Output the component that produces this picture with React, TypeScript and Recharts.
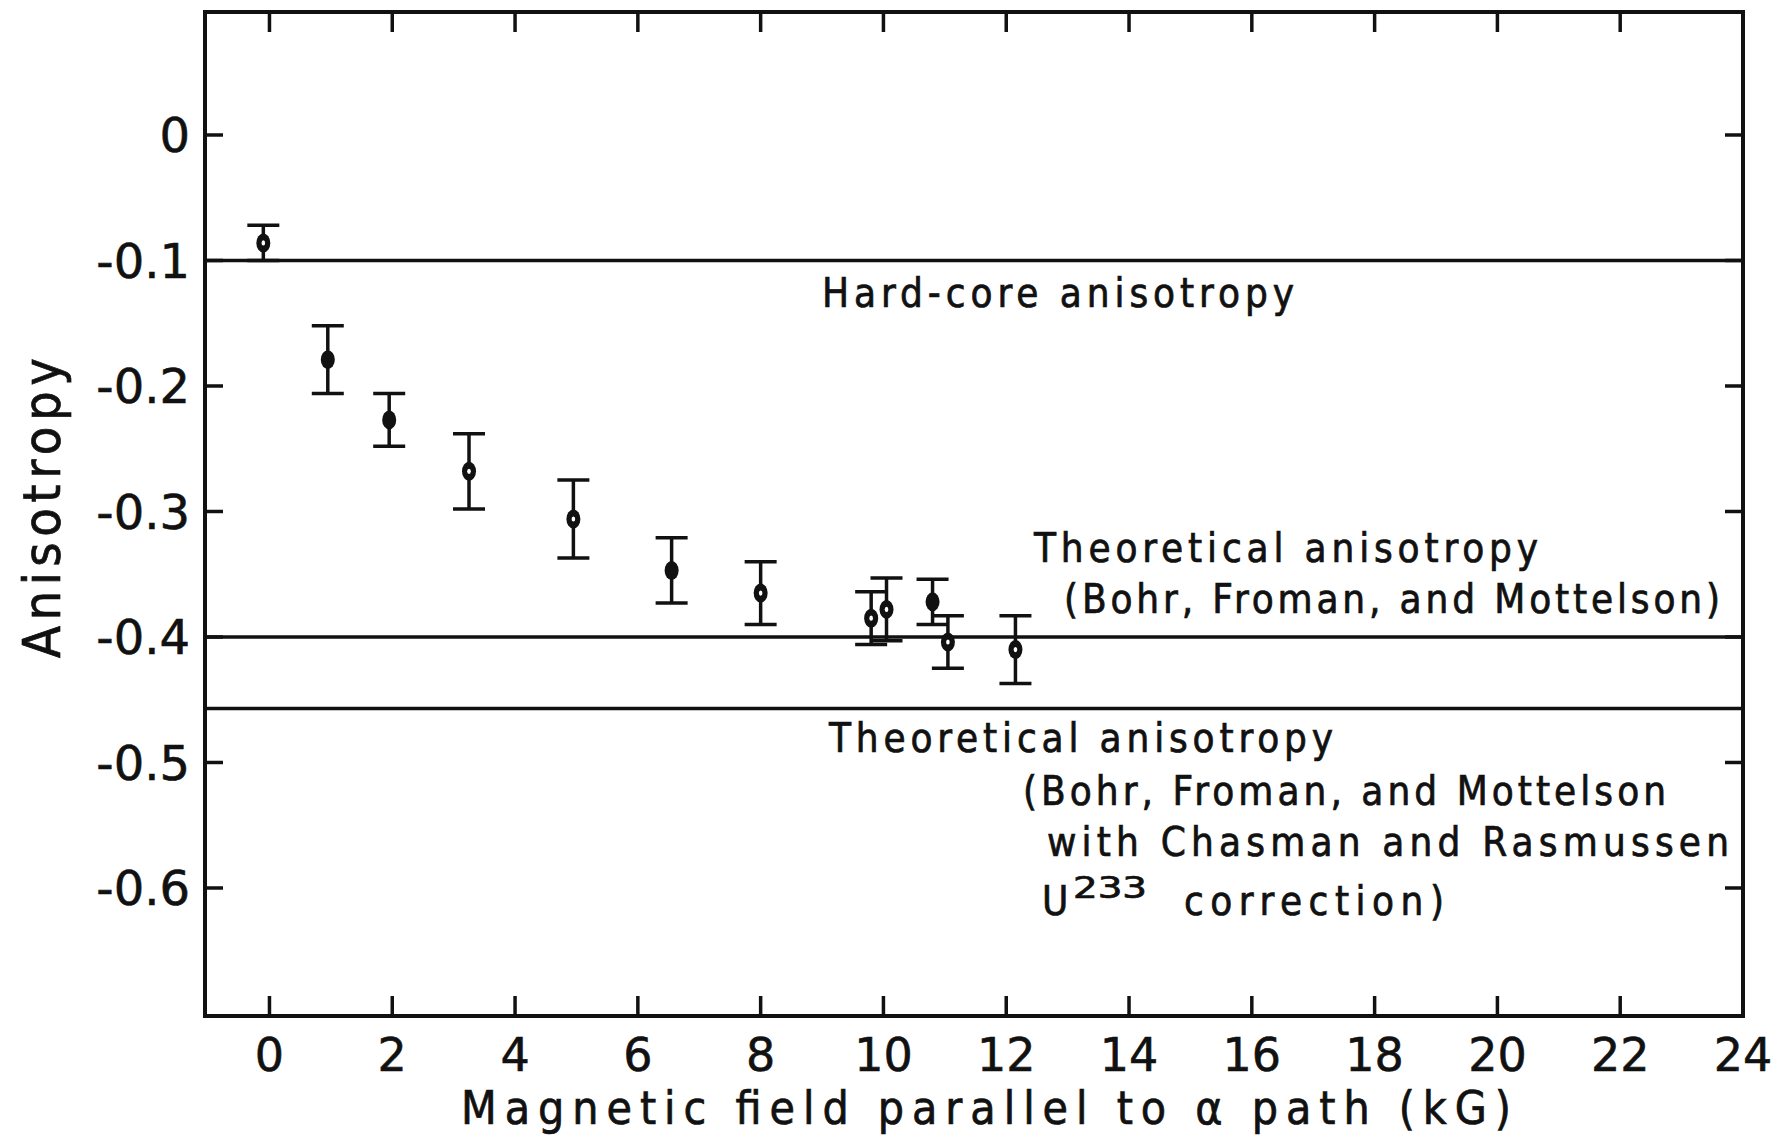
import React from 'react';
import { ScatterChart, Scatter, XAxis, YAxis, ReferenceLine, ErrorBar } from 'recharts';

// measured points: magnetic field (kG) vs anisotropy, with error bar half-widths
const fieldKG = [-0.1, 0.95, 1.95, 3.25, 4.95, 6.55, 8.0, 9.8, 10.05, 10.8, 11.05, 12.15];
const anisotropy = [-0.086, -0.179, -0.227, -0.268, -0.306, -0.347, -0.365, -0.385, -0.378, -0.372, -0.404, -0.41];
const anisotropyErr = [0.014, 0.027, 0.021, 0.03, 0.031, 0.026, 0.025, 0.021, 0.025, 0.018, 0.021, 0.027];
// points drawn with a small open centre
const openCentre = [true, false, false, true, true, false, true, true, true, false, true, true];

// horizontal reference levels
const hardCoreLevel = -0.1;
const theoryLevel = -0.4;
const theoryCorrectedLevel = -0.457;

// axes
const xTicks = [0, 2, 4, 6, 8, 10, 12, 14, 16, 18, 20, 22, 24];
const yTicks = [0, -0.1, -0.2, -0.3, -0.4, -0.5, -0.6];
const xDomain: [number, number] = [-1.05, 24];
const yDomain: [number, number] = [-0.702, 0.098];

const W = 1784;
const H = 1138;
const INK = '#111';
const TICK_FONT = '"DejaVu Sans", sans-serif';
const TEXT_FONT = '"DejaVu Sans Condensed", "DejaVu Sans", sans-serif';

const data = fieldKG.map((x, i) => ({
  x,
  y: anisotropy[i],
  err: anisotropyErr[i],
  open: openCentre[i],
}));

// anchor points on the top edge for the top tick marks
const topTickData = xTicks.map((x) => ({ x, y: yDomain[1] }));

// filled oval marker, some with a white dot in the middle
function Marker({ cx, cy, payload }: any) {
  return (
    <g>
      <ellipse cx={cx} cy={cy} rx={7} ry={9.5} fill={INK} />
      {payload.open && <ellipse cx={cx} cy={cy} rx={1.8} ry={2.6} fill="#fff" />}
    </g>
  );
}

// short inward tick hanging from the top edge
function TopTick({ cx, cy }: any) {
  return <line x1={cx} x2={cx} y1={cy} y2={cy + 20} stroke={INK} strokeWidth={3.5} />;
}

// draws nothing: used for the tick-only frame axes and their helper series
const Empty = () => <g />;

const frameLine = { stroke: INK, strokeWidth: 4, strokeLinecap: 'square' as const };
const tickLine = { stroke: INK, strokeWidth: 3.5 };

// annotation text (page coordinates)
const notes = [
  { text: 'Hard-core anisotropy', x: 822, y: 307, len: 472 },
  { text: 'Theoretical anisotropy', x: 1034, y: 562, len: 504 },
  { text: '(Bohr, Froman, and Mottelson)', x: 1064, y: 613, len: 656 },
  { text: 'Theoretical anisotropy', x: 829, y: 752, len: 504 },
  { text: '(Bohr, Froman, and Mottelson', x: 1023, y: 805, len: 643 },
  { text: 'with Chasman and Rasmussen', x: 1047, y: 856, len: 682 },
  { text: 'correction)', x: 1184, y: 915, len: 260 },
];

export default function App() {
  return (
    <div style={{ position: 'fixed', left: 0, top: 0, width: W, height: H, background: '#fff' }}>
      <ScatterChart width={W} height={H} margin={{ top: 12, right: 41, bottom: 62, left: 85 }}>
        {/* tick labels */}
        <XAxis
          xAxisId="b"
          dataKey="x"
          type="number"
          domain={xDomain}
          allowDataOverflow
          ticks={xTicks}
          interval={0}
          height={60}
          axisLine={false}
          tickLine={false}
          tickSize={0}
          tickMargin={22}
          tick={{ fill: INK, stroke: INK, strokeWidth: 0.6, fontSize: 46, fontFamily: TICK_FONT }}
        />
        <YAxis
          yAxisId="l"
          dataKey="y"
          type="number"
          domain={yDomain}
          allowDataOverflow
          ticks={yTicks}
          interval={0}
          width={120}
          axisLine={false}
          tickLine={false}
          tickSize={0}
          tickMargin={15}
          tickFormatter={(v: number) => (v === 0 ? '0' : v.toFixed(1))}
          tick={{ fill: INK, stroke: INK, strokeWidth: 0.6, fontSize: 48, fontFamily: TICK_FONT }}
        />

        {/* frame with inward ticks */}
        <XAxis xAxisId="bf" dataKey="x" type="number" domain={xDomain} allowDataOverflow ticks={xTicks} interval={0}
          height={1} mirror tickSize={20} tick={Empty} tickLine={tickLine} axisLine={frameLine} />
        <XAxis xAxisId="tf" dataKey="x" orientation="top" type="number" domain={xDomain} allowDataOverflow ticks={xTicks} interval={0}
          height={1} mirror tickSize={20} tick={Empty} tickLine={false} axisLine={frameLine} />
        <YAxis yAxisId="lf" dataKey="y" type="number" domain={yDomain} allowDataOverflow ticks={yTicks} interval={0}
          width={1} mirror tickSize={18} tick={Empty} tickLine={tickLine} axisLine={frameLine} />
        <YAxis yAxisId="rf" dataKey="y" orientation="right" type="number" domain={yDomain} allowDataOverflow ticks={yTicks} interval={0}
          width={1} mirror tickSize={18} tick={Empty} tickLine={tickLine} axisLine={frameLine} />

        <ReferenceLine xAxisId="b" yAxisId="l" y={hardCoreLevel} stroke={INK} strokeWidth={3.5} />
        <ReferenceLine xAxisId="b" yAxisId="l" y={theoryLevel} stroke={INK} strokeWidth={3.5} />
        <ReferenceLine xAxisId="b" yAxisId="l" y={theoryCorrectedLevel} stroke={INK} strokeWidth={3.5} />

        {/* invisible series so the frame axes get a scale */}
        <Scatter xAxisId="bf" yAxisId="lf" data={data} shape={Empty} isAnimationActive={false} />
        <Scatter xAxisId="tf" yAxisId="rf" data={data} shape={Empty} isAnimationActive={false} />

        {/* top edge tick marks */}
        <Scatter xAxisId="b" yAxisId="l" data={topTickData} shape={TopTick} isAnimationActive={false} />

        <Scatter xAxisId="b" yAxisId="l" data={data} shape={Marker} isAnimationActive={false}>
          <ErrorBar dataKey="err" direction="y" width={16} stroke={INK} strokeWidth={3.5} isAnimationActive={false} />
        </Scatter>
      </ScatterChart>

      {/* labels and annotations */}
      <svg width={W} height={H} style={{ position: 'absolute', left: 0, top: 0, pointerEvents: 'none' }}>
        <g fill={INK} stroke={INK} strokeWidth={0.7} fontFamily={TEXT_FONT} fontSize={40}>
          {notes.map((n, i) => (
            <text key={i} x={n.x} y={n.y} textLength={n.len} lengthAdjust="spacing">
              {n.text}
            </text>
          ))}
          <text x={1042} y={915}>U</text>
          <text x={1073} y={898} fontSize={30} textLength={74} lengthAdjust="spacingAndGlyphs">233</text>
          <text x={461} y={1124} fontSize={46} textLength={1050} lengthAdjust="spacing">
            Magnetic field parallel to α path (kG)
          </text>
          <text
            transform="translate(60,508) rotate(-90)"
            textAnchor="middle"
            fontSize={52}
            textLength={300}
            lengthAdjust="spacing"
          >
            Anisotropy
          </text>
        </g>
      </svg>
    </div>
  );
}
